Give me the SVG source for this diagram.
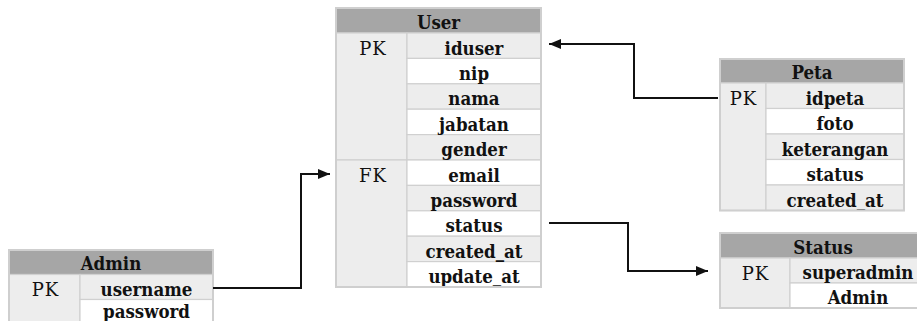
<svg xmlns="http://www.w3.org/2000/svg" width="917" height="321" viewBox="0 0 917 321">
  <style>
    .bg { fill: #ffffff; }
    .frame { fill: none; stroke: #cfcfcf; stroke-width: 2; }
    .hdr { fill: #a6a6a6; stroke: #d0d0d0; stroke-width: 1.2; }
    .key { fill: #ededed; stroke: #d0d0d0; stroke-width: 1.2; }
    .g { fill: #ededed; stroke: #d0d0d0; stroke-width: 1.2; }
    .w { fill: #ffffff; stroke: #d0d0d0; stroke-width: 1.2; }
    .tb { font-family: "DejaVu Serif Condensed", "DejaVu Serif", serif; font-stretch: condensed; font-weight: bold; font-size: 18.5px; fill: #111; text-anchor: middle; }
    .tr { font-family: "DejaVu Serif", serif; font-size: 18px; letter-spacing: 1px; fill: #111; text-anchor: middle; }
    .conn { fill: none; stroke: #111; stroke-width: 2; }
  </style>
  <defs>
    <marker id="arrow" markerUnits="userSpaceOnUse" markerWidth="13" markerHeight="11" refX="12" refY="5" orient="auto">
      <path d="M0,0 L12,5 L0,10 z" fill="#111"/>
    </marker>
  </defs>

  <rect class="bg" x="0" y="0" width="917" height="321"/>

  <!-- User table -->
  <g id="user">
    <rect class="hdr" x="336" y="8" width="205" height="25"/>
    <text class="tb" x="438.5" y="28.5">User</text>
    <rect class="key" x="336" y="33" width="71" height="127"/>
    <rect class="key" x="336" y="160" width="71" height="127"/>
    <text class="tr" x="373" y="54.5">PK</text>
    <text class="tr" x="373" y="181.5">FK</text>
    <rect class="g" x="407" y="33" width="134" height="25.4"/>
    <rect class="w" x="407" y="58.4" width="134" height="25.4"/>
    <rect class="g" x="407" y="83.8" width="134" height="25.4"/>
    <rect class="w" x="407" y="109.2" width="134" height="25.4"/>
    <rect class="g" x="407" y="134.6" width="134" height="25.4"/>
    <rect class="w" x="407" y="160" width="134" height="25.4"/>
    <rect class="g" x="407" y="185.4" width="134" height="25.4"/>
    <rect class="w" x="407" y="210.8" width="134" height="25.4"/>
    <rect class="g" x="407" y="236.2" width="134" height="25.4"/>
    <rect class="w" x="407" y="261.6" width="134" height="25.4"/>
    <text class="tb" x="474" y="54.5">iduser</text>
    <text class="tb" x="474" y="79.9">nip</text>
    <text class="tb" x="474" y="105.3">nama</text>
    <text class="tb" x="474" y="130.7">jabatan</text>
    <text class="tb" x="474" y="156.1">gender</text>
    <text class="tb" x="474" y="181.5">email</text>
    <text class="tb" x="474" y="206.9">password</text>
    <text class="tb" x="474" y="232.3">status</text>
    <text class="tb" x="474" y="257.7">created_at</text>
    <text class="tb" x="474" y="283.1">update_at</text>
    <rect class="frame" x="336" y="8" width="205" height="279"/>
  </g>

  <!-- Peta table -->
  <g id="peta">
    <rect class="hdr" x="720" y="59" width="184" height="24"/>
    <text class="tb" x="812" y="78.5">Peta</text>
    <rect class="key" x="720" y="83" width="46" height="127.5"/>
    <text class="tr" x="743.5" y="104.5">PK</text>
    <rect class="g" x="766" y="83" width="138" height="25.5"/>
    <rect class="w" x="766" y="108.5" width="138" height="25.5"/>
    <rect class="g" x="766" y="134" width="138" height="25.5"/>
    <rect class="w" x="766" y="159.5" width="138" height="25.5"/>
    <rect class="g" x="766" y="185" width="138" height="25.5"/>
    <text class="tb" x="835" y="104.5">idpeta</text>
    <text class="tb" x="835" y="130">foto</text>
    <text class="tb" x="835" y="155.5">keterangan</text>
    <text class="tb" x="835" y="181">status</text>
    <text class="tb" x="835" y="206.5">created_at</text>
    <rect class="frame" x="720" y="59" width="184" height="151.5"/>
  </g>

  <!-- Status table -->
  <g id="status">
    <rect class="hdr" x="720" y="233" width="206" height="25"/>
    <text class="tb" x="823" y="253.5">Status</text>
    <rect class="key" x="720" y="258" width="70" height="50"/>
    <text class="tr" x="755.5" y="279.5">PK</text>
    <rect class="g" x="790" y="258" width="136" height="25"/>
    <rect class="w" x="790" y="283" width="136" height="25"/>
    <text class="tb" x="858" y="279">superadmin</text>
    <text class="tb" x="858" y="304">Admin</text>
    <rect class="frame" x="720" y="233" width="206" height="75"/>
  </g>

  <!-- Admin table -->
  <g id="admin">
    <rect class="hdr" x="9" y="250" width="204" height="24.5"/>
    <text class="tb" x="111" y="270">Admin</text>
    <rect class="key" x="9" y="274.5" width="71" height="52"/>
    <text class="tr" x="45.5" y="295.5">PK</text>
    <rect class="g" x="80" y="274.5" width="133" height="25"/>
    <rect class="w" x="80" y="299.5" width="133" height="27"/>
    <text class="tb" x="146.5" y="295.5">username</text>
    <text class="tb" x="146.5" y="318">password</text>
    <rect class="frame" x="9" y="250" width="204" height="76"/>
  </g>

  <!-- Relationship connectors -->
  <g id="connectors">
    <path class="conn" d="M213,288 H301 V174 H330" marker-end="url(#arrow)"/>
    <path class="conn" d="M718,98 H634 V44 H549" marker-end="url(#arrow)"/>
    <path class="conn" d="M549,223 H628 V271 H708" marker-end="url(#arrow)"/>
  </g>
</svg>
